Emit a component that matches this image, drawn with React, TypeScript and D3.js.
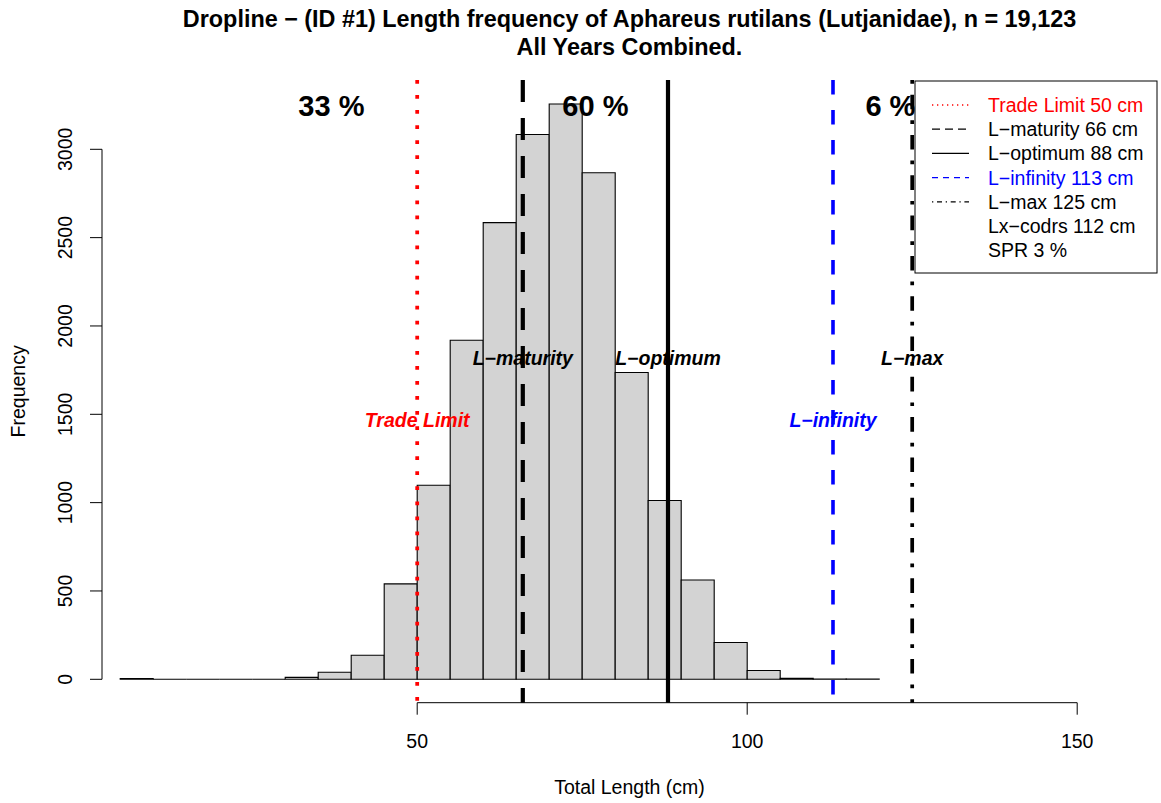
import React from "react";
import * as d3 from "d3";

const binStart = 5;
const binWidth = 5;
const counts = [4, 0, 0, 0, 0, 11, 40, 136, 540, 1098, 1919, 2585, 3084, 3256, 2867, 1737, 1012, 562, 208, 50, 5, 2, 1];
const xTicks = [50, 100, 150];
const yTicks = [0, 500, 1000, 1500, 2000, 2500, 3000];

const refNames = ["Trade Limit", "L−maturity", "L−optimum", "L−infinity", "L−max"];
const refValues = [50, 66, 88, 113, 125];
const refColors = ["#FF0000", "#000000", "#000000", "#0000FF", "#000000"];
const refDash = ["3.75 11.3", "22 16", "", "14.5 15.5", "3.7 11 14.6 11"];
const refWidths = [3.75, 4.2, 4.2, 3.6, 3.7];
const refLabelY = [1470, 1820, 1820, 1470, 1820];

const pctLabels = ["33 %", "60 %", "6 %"];
const pctX = [37, 77, 121.7];
const pctY = 3250;

const legendTexts = ["Trade Limit 50 cm", "L−maturity 66 cm", "L−optimum 88 cm", "L−infinity 113 cm", "L−max 125 cm", "Lx−codrs 112 cm", "SPR 3 %"];
const legendColors = ["#FF0000", "#000000", "#000000", "#0000FF", "#000000", "#000000", "#000000"];
const legendDash = ["1.3 3.7", "8 5", "", "6 5", "1.3 3.7 5 3.7", null, null];

const title1 = "Dropline − (ID #1) Length frequency of Aphareus rutilans (Lutjanidae), n = 19,123";
const title2 = "All Years Combined.";
const xLabel = "Total Length (cm)";
const yLabel = "Frequency";

const FONT = "'Liberation Sans', Arial, Helvetica, sans-serif";

export default function App() {
  const W = 1161, H = 803;
  const x = d3.scaleLinear().domain([0, 150]).range([87.2, 1077.2]);
  const y = d3.scaleLinear().domain([0, 3000]).range([679.3, 149.3]);
  const plot = { left: 102, right: 1157, top: 80, bottom: 702.7 };
  const bins = counts.map((c, i) => ({ x0: binStart + i * binWidth, x1: binStart + (i + 1) * binWidth, c }));
  const legTop = 81, legBottom = 273, legLeft = 915, legRight = 1157;
  const rowY = (i: number) => 105 + i * 24.2;

  return (
    <svg width={W} height={H} style={{ position: "absolute", left: 0, top: 0, background: "#fff" }} fontFamily={FONT}>
      <rect x={0} y={0} width={W} height={H} fill="#fff" />
      {/* title */}
      <text x={(plot.left + plot.right) / 2} y={26.5} textAnchor="middle" fontWeight="bold" fontSize={23.4}>{title1}</text>
      <text x={(plot.left + plot.right) / 2} y={54.5} textAnchor="middle" fontWeight="bold" fontSize={23.4}>{title2}</text>

      {/* bars */}
      {bins.map((b, i) => {
        const path = d3.path();
        path.moveTo(x(b.x0), y(0));
        path.lineTo(x(b.x0), y(b.c));
        path.lineTo(x(b.x1), y(b.c));
        path.lineTo(x(b.x1), y(0));
        path.closePath();
        return <path key={i} d={path.toString()} fill="#D3D3D3" stroke="#000" strokeWidth={1.1} />;
      })}

      {/* y axis */}
      <line x1={plot.left} x2={plot.left} y1={y(0)} y2={y(3000)} stroke="#000" strokeWidth={1} />
      {yTicks.map((t) => (
        <g key={t}>
          <line x1={plot.left - 12} x2={plot.left} y1={y(t)} y2={y(t)} stroke="#000" strokeWidth={1} />
          <text transform={`translate(72,${y(t)}) rotate(-90)`} textAnchor="middle" fontSize={19.5}>{t}</text>
        </g>
      ))}
      <text transform={`translate(25,${(plot.top + plot.bottom) / 2}) rotate(-90)`} textAnchor="middle" fontSize={19.5}>{yLabel}</text>

      {/* x axis */}
      <line x1={x(50)} x2={x(150)} y1={plot.bottom} y2={plot.bottom} stroke="#000" strokeWidth={1} />
      {xTicks.map((t) => (
        <g key={t}>
          <line x1={x(t)} x2={x(t)} y1={plot.bottom} y2={plot.bottom + 12} stroke="#000" strokeWidth={1} />
          <text x={x(t)} y={748} textAnchor="middle" fontSize={19.5}>{t}</text>
        </g>
      ))}
      <text x={(plot.left + plot.right) / 2} y={794} textAnchor="middle" fontSize={19.5}>{xLabel}</text>

      {/* reference lines */}
      {refValues.map((v, i) => (
        <line key={i} x1={x(v)} x2={x(v)} y1={plot.top} y2={plot.bottom} stroke={refColors[i]} strokeWidth={refWidths[i]} strokeDasharray={refDash[i] || undefined} strokeLinecap="butt" />
      ))}

      {/* percent labels */}
      {pctLabels.map((p, i) => (
        <text key={i} x={x(pctX[i])} y={y(pctY) + 10.4} textAnchor="middle" fontWeight="bold" fontSize={29}>{p}</text>
      ))}

      {/* reference labels */}
      {refNames.map((n, i) => (
        <text key={i} x={x(refValues[i])} y={y(refLabelY[i]) + 7} textAnchor="middle" fontWeight="bold" fontStyle="italic" fontSize={19.5} fill={refColors[i]}>{n}</text>
      ))}

      {/* legend */}
      <rect x={legLeft} y={legTop} width={legRight - legLeft} height={legBottom - legTop} fill="#fff" stroke="#000" strokeWidth={1} />
      {legendTexts.map((t, i) => (
        <g key={i}>
          {legendDash[i] !== null && (
            <line x1={932} x2={969} y1={rowY(i)} y2={rowY(i)} stroke={legendColors[i]} strokeWidth={1.3} strokeDasharray={legendDash[i] || undefined} />
          )}
          <text x={988} y={rowY(i) + 7} fontSize={19.5} fill={legendColors[i]}>{t}</text>
        </g>
      ))}
    </svg>
  );
}
